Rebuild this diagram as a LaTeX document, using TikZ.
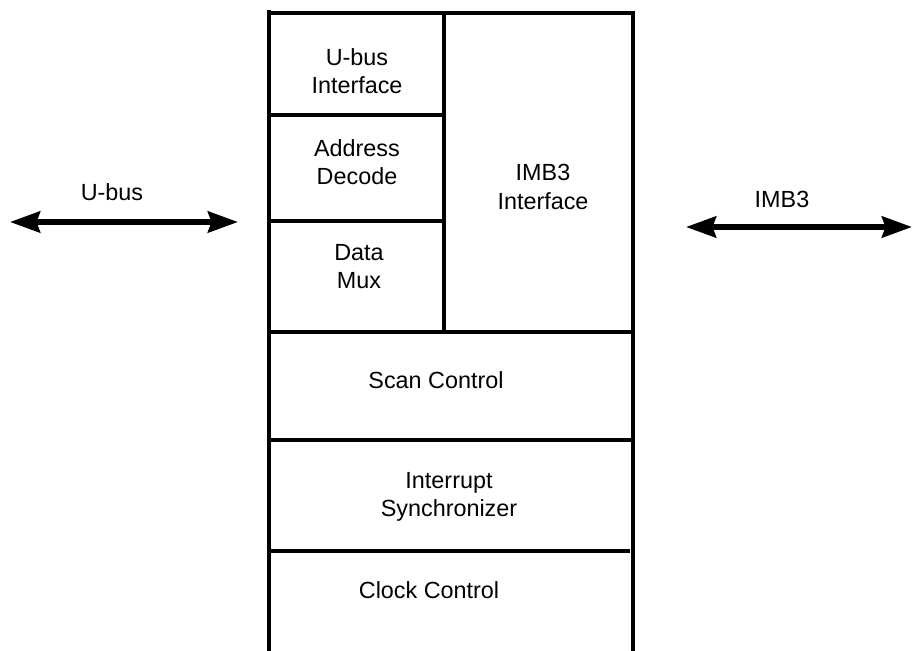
\documentclass[tikz,border=0pt]{standalone}
\usepackage{fontspec}
\setmainfont{Liberation Sans}
\usetikzlibrary{arrows.meta}
\begin{document}
\begin{tikzpicture}[x=0.02cm,y=-0.02cm,
    label/.style={align=center,font=\fontsize{13.3}{16}\selectfont},
    wall/.style={line width=1.9pt},
    bus/.style={line width=3.2pt,{Stealth[length=0.6cm,width=0.42cm,inset=0.07cm]}-{Stealth[length=0.6cm,width=0.42cm,inset=0.07cm]}}]
    \useasboundingbox (0,0) rectangle (915,651);
    % outline, open at the bottom
    \draw[wall] (269,651) -- (269,10) (269,13) -- (633,13) -- (633,651);
    \draw[wall] (444,13) -- (444,332);
    \draw[wall] (269,115) -- (444,115) (269,221) -- (444,221);
    \draw[wall] (269,332) -- (633,332) (269,440) -- (633,440);
    \draw[wall] (269,551) -- (630,551);
    % blocks
    \node[label] (ubusif) at (357,71) {U-bus\\Interface};
    \node[label] (decode) at (357,162) {Address\\Decode};
    \node[label] (mux) at (359,267) {Data\\Mux};
    \node[label] (imbif) at (543,187) {IMB3\\Interface};
    \node[label] (scan) at (436,380) {Scan Control};
    \node[label] (intsync) at (449,497) {Interrupt\\Synchronizer};
    \node[label] (clock) at (429,590) {Clock Control};
    % buses
    \coordinate (ubusL) at (10,222);
    \coordinate (ubusR) at (238,222);
    \coordinate (imbL) at (686,227);
    \coordinate (imbR) at (912,227);
    \draw[bus] (ubusL) -- (ubusR);
    \draw[bus] (imbL) -- (imbR);
    \node[label] (ubus) at (112,192) {U-bus};
    \node[label] (imb) at (782,199) {IMB3};
\end{tikzpicture}
\end{document}
